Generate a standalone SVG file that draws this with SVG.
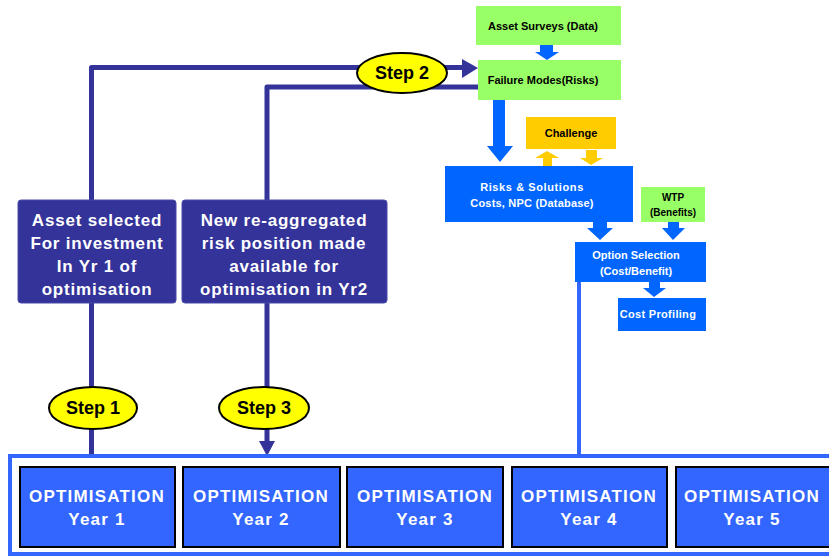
<svg xmlns="http://www.w3.org/2000/svg" width="829" height="556" viewBox="0 0 829 556">
  <style>
    text { font-family: "Liberation Sans", Arial, sans-serif; font-weight: bold; text-anchor: middle; }
    .green { fill: #99FF66; }
    .blue { fill: #0066FF; }
    .yellow { fill: #FFCC00; }
    .navy { fill: #333399; stroke: #4A4AAA; stroke-width: 1; }
    .year { fill: #3366FF; stroke: #000; stroke-width: 2; }
    .step { fill: #FFFF00; stroke: #000; stroke-width: 2; }
    .wire { fill: none; stroke: #333399; stroke-width: 5; stroke-linejoin: round; }
    .lbl-s { font-size: 11px; fill: #000; }
    .lbl-w { font-size: 11px; fill: #fff; }
    .big-w { font-size: 17px; fill: #fff; letter-spacing: 0.8px; }
    .yr-w { font-size: 17px; fill: #fff; letter-spacing: 1.2px; }
    .step-t { font-size: 18px; fill: #000; }
  </style>

  <!-- connectors -->
  <g id="connectors">
    <!-- step 1/2 loop -->
    <path class="wire" d="M91.5,456 V67.5 H464"/>
    <polygon fill="#333399" points="462,59 478,68 462,78"/>
    <!-- step 3 loop -->
    <path class="wire" d="M478,87 H267 V443"/>
    <polygon fill="#333399" points="259,441 275,441 267,456"/>
    <!-- option selection down to year frame -->
    <line x1="579" y1="244" x2="579" y2="456" stroke="#3366FF" stroke-width="4"/>
    <!-- blue flow arrows -->
    <polygon class="blue" points="540,45 553,45 553,52 559,52 547,60 535,52 540,52"/>
    <polygon class="blue" points="493,100 505,100 505,146 513,146 500,162 487,146 493,146"/>
    <polygon class="blue" points="593,222 607,222 607,228 613,228 600,240 587,228 593,228"/>
    <polygon class="blue" points="668,222 679,222 679,228 685,228 673,240 662,228 668,228"/>
    <polygon class="blue" points="649,282 660,282 660,288 666,288 654,297 643,288 649,288"/>
    <!-- challenge arrows -->
    <polygon class="yellow" points="543,166 552,166 552,158 559,158 547,151 535,158 543,158"/>
    <polygon class="yellow" points="586,150 597,150 597,158 603,158 591,165 580,158 586,158"/>
  </g>

  <!-- year frame -->
  <rect x="10" y="456" width="832" height="98" fill="none" stroke="#3366FF" stroke-width="4"/>

  <g id="asset-surveys">
    <rect class="green" x="476" y="6" width="145" height="39"/>
    <text class="lbl-s" x="543" y="30">Asset Surveys (Data)</text>
  </g>
  <g id="failure-modes">
    <rect class="green" x="478" y="60" width="143" height="40"/>
    <text class="lbl-s" x="543" y="84">Failure Modes(Risks)</text>
  </g>
  <g id="challenge">
    <rect class="yellow" x="526" y="117" width="90" height="32"/>
    <text class="lbl-s" x="571" y="137">Challenge</text>
  </g>
  <g id="risks-solutions">
    <rect class="blue" x="445" y="166" width="188" height="56"/>
    <text class="lbl-w" x="532" y="191" style="letter-spacing:0.6px">Risks &amp; Solutions</text>
    <text class="lbl-w" x="532" y="207" style="letter-spacing:0.2px">Costs, NPC (Database)</text>
  </g>
  <g id="wtp">
    <rect class="green" x="641" y="187" width="64" height="35"/>
    <text class="lbl-s" x="673" y="201" style="font-size:10px">WTP</text>
    <text class="lbl-s" x="673" y="216" style="font-size:10px">(Benefits)</text>
  </g>
  <g id="option-selection">
    <rect class="blue" x="575" y="242" width="131" height="40"/>
    <text class="lbl-w" x="636" y="259">Option Selection</text>
    <text class="lbl-w" x="636" y="275">(Cost/Benefit)</text>
  </g>
  <g id="cost-profiling">
    <rect class="blue" x="618" y="298" width="88" height="33"/>
    <text class="lbl-w" x="658" y="318" style="letter-spacing:0.3px">Cost Profiling</text>
  </g>

  <g id="asset-selected">
    <rect class="navy" x="18" y="200" width="158" height="103" rx="3"/>
    <text class="big-w" x="97" y="226">Asset selected</text>
    <text class="big-w" x="97" y="249">For investment</text>
    <text class="big-w" x="97" y="272">In Yr 1 of</text>
    <text class="big-w" x="97" y="295">optimisation</text>
  </g>
  <g id="re-aggregated">
    <rect class="navy" x="182" y="200" width="205" height="103" rx="3"/>
    <text class="big-w" x="284" y="226">New re-aggregated</text>
    <text class="big-w" x="284" y="249">risk position made</text>
    <text class="big-w" x="284" y="272">available for</text>
    <text class="big-w" x="284" y="295">optimisation in Yr2</text>
  </g>

  <g id="step-2">
    <ellipse class="step" cx="402" cy="73" rx="45" ry="20"/>
    <text class="step-t" x="402" y="79">Step 2</text>
  </g>
  <g id="step-1">
    <ellipse class="step" cx="93" cy="408" rx="44" ry="21"/>
    <text class="step-t" x="93" y="414">Step 1</text>
  </g>
  <g id="step-3">
    <ellipse class="step" cx="264" cy="408" rx="45" ry="21"/>
    <text class="step-t" x="264" y="414">Step 3</text>
  </g>

  <g id="year-1">
    <rect class="year" x="20" y="467" width="155" height="80"/>
    <text class="yr-w" x="97" y="502">OPTIMISATION</text>
    <text class="yr-w" x="97" y="525">Year 1</text>
  </g>
  <g id="year-2">
    <rect class="year" x="183" y="467" width="157" height="80"/>
    <text class="yr-w" x="261" y="502">OPTIMISATION</text>
    <text class="yr-w" x="261" y="525">Year 2</text>
  </g>
  <g id="year-3">
    <rect class="year" x="347" y="467" width="156" height="80"/>
    <text class="yr-w" x="425" y="502">OPTIMISATION</text>
    <text class="yr-w" x="425" y="525">Year 3</text>
  </g>
  <g id="year-4">
    <rect class="year" x="512" y="467" width="155" height="80"/>
    <text class="yr-w" x="589" y="502">OPTIMISATION</text>
    <text class="yr-w" x="589" y="525">Year 4</text>
  </g>
  <g id="year-5">
    <rect class="year" x="676" y="467" width="155" height="80"/>
    <text class="yr-w" x="752" y="502">OPTIMISATION</text>
    <text class="yr-w" x="752" y="525">Year 5</text>
  </g>
</svg>
